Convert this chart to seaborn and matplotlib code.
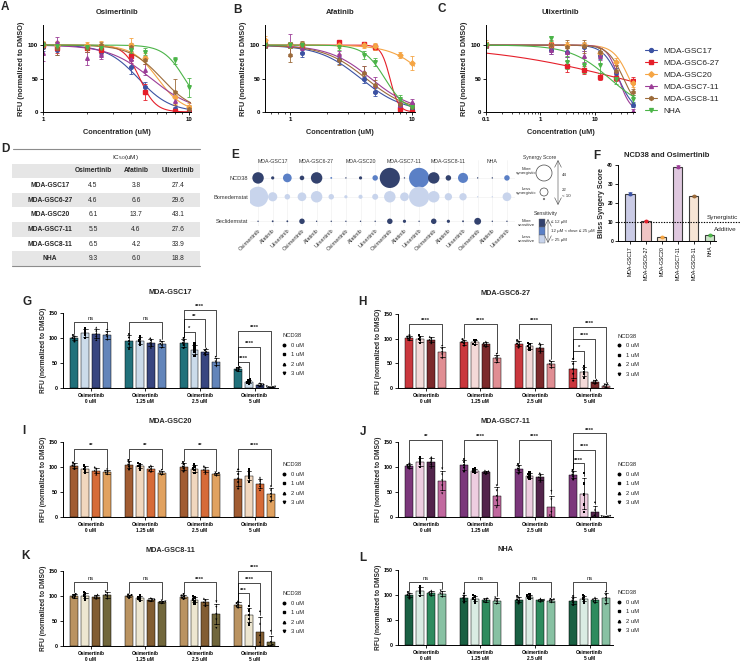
import numpy as np
import pandas as pd
import matplotlib
matplotlib.use('Agg')
import matplotlib.pyplot as plt
import seaborn as sns
from matplotlib.lines import Line2D
from matplotlib.patches import Circle, Rectangle

sns.set_theme(style='ticks')
plt.rcParams['font.family'] = ['Liberation Sans', 'DejaVu Sans']
plt.rcParams['axes.facecolor'] = 'none'
plt.rcParams['axes.edgecolor'] = 'black'
plt.rcParams['axes.linewidth'] = 0.7
plt.rcParams['xtick.major.width'] = 0.6
plt.rcParams['ytick.major.width'] = 0.6
plt.rcParams['xtick.minor.width'] = 0.5
plt.rcParams['xtick.major.size'] = 2
plt.rcParams['ytick.major.size'] = 2
plt.rcParams['xtick.minor.size'] = 1.2
plt.rcParams['xtick.major.pad'] = 1.5
plt.rcParams['ytick.major.pad'] = 1.5
plt.rcParams['xtick.color'] = 'black'
plt.rcParams['ytick.color'] = 'black'

# ---------------- data ----------------
cell_lines = ['MDA-GSC17', 'MDA-GSC6-27', 'MDA-GSC20', 'MDA-GSC7-11', 'MDA-GSC8-11', 'NHA']
line_colors = ['#3B52A3', '#E51F2A', '#F5A544', '#9B3D97', '#9C6B3A', '#4BB448']
line_markers = ['o', 's', 'D', '^', 'h', 'v']

# IC50 table (uM)
ic50_osi = [4.5, 4.6, 6.1, 5.5, 6.5, 9.3]
ic50_afa = [3.8, 6.6, 13.7, 4.6, 4.2, 6.0]
ic50_uli = [27.4, 29.6, 43.1, 27.6, 33.9, 18.8]
# hill slopes of the fitted curves
hill_osi = [4, 8, 5, 3, 4, 6]
hill_afa = [2.5, 12, 3, 2.5, 2.5, 5]
hill_uli = [3, 0.35, 3, 4, 3, 1.2]

osi_conc = [1, 1.25, 2, 2.5, 4, 5, 8, 10]
osi_rfu = {
    'MDA-GSC17': [97, 93, 95, 90, 67, 38, 5, 0],
    'MDA-GSC6-27': [100, 96, 96, 92, 84, 30, 1, 0],
    'MDA-GSC20': [100, 100, 100, 100, 100, 80, 22, 8],
    'MDA-GSC7-11': [88, 104, 80, 85, 79, 63, 16, 1],
    'MDA-GSC8-11': [100, 95, 95, 100, 97, 78, 30, 5],
    'NHA': [100, 98, 97, 95, 93, 90, 77, 37],
}
osi_err = {
    'MDA-GSC17': [6, 8, 6, 5, 10, 7, 3, 1],
    'MDA-GSC6-27': [5, 8, 6, 5, 6, 12, 2, 1],
    'MDA-GSC20': [6, 6, 5, 6, 10, 8, 10, 5],
    'MDA-GSC7-11': [12, 8, 10, 6, 6, 8, 10, 2],
    'MDA-GSC8-11': [5, 10, 6, 5, 6, 6, 20, 5],
    'NHA': [5, 6, 5, 5, 5, 5, 5, 14],
}

afa_conc = [0.625, 1, 1.25, 2.5, 4, 5, 8, 10]
afa_rfu = {
    'MDA-GSC17': [100, 100, 88, 77, 49, 30, 10, 5],
    'MDA-GSC6-27': [100, 100, 100, 104, 102, 97, 5, 0],
    'MDA-GSC20': [108, 100, 100, 100, 100, 98, 85, 73],
    'MDA-GSC7-11': [100, 100, 95, 86, 60, 40, 10, 15],
    'MDA-GSC8-11': [100, 85, 100, 78, 59, 40, 12, 8],
    'NHA': [100, 100, 100, 97, 85, 74, 19, 8],
}
afa_err = {
    'MDA-GSC17': [4, 5, 6, 5, 5, 6, 4, 3],
    'MDA-GSC6-27': [3, 3, 3, 3, 3, 5, 4, 2],
    'MDA-GSC20': [6, 5, 5, 5, 5, 5, 5, 10],
    'MDA-GSC7-11': [5, 16, 6, 5, 8, 12, 5, 5],
    'MDA-GSC8-11': [5, 10, 6, 8, 10, 8, 5, 5],
    'NHA': [4, 4, 4, 4, 6, 6, 7, 5],
}

uli_conc = [0.1, 1.56, 3.125, 6.25, 12.5, 25, 50]
uli_rfu = {
    'MDA-GSC17': [100, 92, 90, 97, 85, 58, 11],
    'MDA-GSC6-27': [100, 100, 68, 63, 53, 51, 47],
    'MDA-GSC20': [102, 100, 100, 100, 88, 75, 44],
    'MDA-GSC7-11': [100, 92, 90, 83, 84, 62, 2],
    'MDA-GSC8-11': [100, 100, 97, 98, 90, 62, 30],
    'NHA': [100, 110, 74, 70, 70, 50, 20],
}
uli_err = {
    'MDA-GSC17': [4, 5, 8, 6, 6, 8, 4],
    'MDA-GSC6-27': [4, 5, 8, 6, 5, 5, 5],
    'MDA-GSC20': [6, 5, 5, 5, 8, 6, 6],
    'MDA-GSC7-11': [4, 6, 8, 8, 6, 8, 2],
    'MDA-GSC8-11': [4, 8, 10, 10, 6, 8, 5],
    'NHA': [4, 4, 10, 12, 12, 8, 6],
}

# synergy bubbles (E)
bubble_drugs = ['Osimertinib', 'Afatinib', 'Ulixertinib']
bubble_rows = ['NCD38', 'Bomedemstat', 'Seclidemstat']
score_ncd38 = [25, 7, 19, 10, 25, 4, 3, 7, 12, 44, 3, 44, 25, 12, 22, 3, 3, 12]
score_bomed = [44, 20, 12, 19, 25, 12, 7, 9, 13, 25, 19, 44, 25, 16, 16, 3, 3, 19]
score_seclid = [3, 4, 4, 12, 3, 3, 3, 3, 3, 12, 7, 3, 12, 7, 4, 15, 3, 3]
sens_ncd38 = ['hi', 'hi', 'mid', 'hi', 'hi', 'mid', 'hi', 'hi', 'mid',
              'hi', 'hi', 'mid', 'hi', 'hi', 'mid', 'hi', 'hi', 'mid']
sens_bomed = ['lo'] * 18
sens_seclid = ['hi'] * 18
sens_colors = {'hi': '#33426E', 'mid': '#5B80C6', 'lo': '#C8D4EC'}

# Bliss synergy (F)
bliss_scores = [25, 10.5, 2, 39, 23.5, 3.3]
bliss_err = [0.8, 0.6, 0.4, 0.8, 0.5, 0.6]
bliss_fill = ['#C6C7EA', '#F6BDBD', '#FFE3C2', '#E3C4E3', '#FDE5CF', '#C9E8C3']

# G-L: replicate RFU values, order = Osimertinib dose x NCD38 dose
osi_levels = ['Osimertinib\n0 uM', 'Osimertinib\n1.25 uM', 'Osimertinib\n2.5 uM', 'Osimertinib\n5 uM']
ncd_levels = ['0 uM', '1 uM', '2 uM', '3 uM']
ncd_markers = ['o', 's', '^', 'v']

gsc17_reps = [
    [93, 98, 100, 103, 106], [100, 106, 110, 115, 120], [96, 104, 109, 115, 121], [96, 102, 106, 111, 116],
    [78, 88, 94, 101, 108], [86, 91, 95, 99, 104], [81, 87, 91, 96, 100], [80, 85, 88, 92, 95],
    [80, 86, 90, 95, 100], [64, 72, 77, 83, 89], [66, 70, 73, 76, 79], [43, 49, 53, 58, 62],
    [34, 36, 38, 40, 42], [9, 11, 13, 15, 17], [4, 6, 7, 8, 10], [0.7, 1.5, 2, 2.6, 3.2],
]
gsc6_reps = [
    [97, 100, 102, 104, 107], [92, 97, 100, 104, 107], [91, 96, 98, 101, 104], [60, 68, 73, 79, 85],
    [86, 91, 93, 96, 99], [87, 90, 93, 97, 98], [84, 87, 89, 91, 94], [51, 56, 60, 64, 69],
    [82, 87, 90, 94, 97], [77, 82, 85, 89, 92], [72, 78, 82, 87, 91], [40, 45, 48, 52, 55],
    [15, 29, 38, 49, 59], [20, 28, 33, 39, 45], [9, 11, 13, 15, 17], [1, 3, 5, 7, 9],
]
gsc20_reps = [
    [96, 101, 103, 106, 109], [88, 93, 96, 100, 103], [85, 90, 93, 97, 100], [85, 88, 90, 92, 95],
    [95, 101, 105, 110, 114], [95, 100, 102, 105, 108], [91, 94, 97, 100, 103], [84, 87, 89, 91, 94],
    [91, 97, 101, 106, 110], [88, 94, 97, 101, 105], [87, 92, 95, 99, 102], [82, 85, 86, 88, 89],
    [57, 70, 77, 86, 95], [70, 78, 83, 89, 95], [54, 62, 67, 73, 79], [30, 40, 46, 53, 61],
]
gsc7_reps = [
    [97, 100, 102, 104, 107], [100, 106, 110, 115, 119], [99, 106, 110, 115, 120], [47, 63, 73, 85, 97],
    [91, 99, 104, 110, 116], [88, 91, 93, 95, 98], [86, 89, 90, 92, 93], [19, 33, 42, 53, 63],
    [87, 93, 97, 102, 106], [77, 80, 83, 86, 89], [71, 77, 80, 84, 88], [0, 3, 10, 35, 52],
    [75, 81, 85, 90, 94], [10, 25, 45, 67, 88], [0, 1, 4, 15, 30], [0, 0.5, 1, 1.5, 2],
]
gsc8_reps = [
    [96, 98, 100, 102, 104], [93, 98, 101, 105, 108], [95, 97, 99, 101, 103], [94, 99, 102, 106, 109],
    [96, 99, 100, 102, 103], [91, 94, 96, 98, 101], [90, 92, 93, 94, 96], [85, 87, 88, 89, 91],
    [94, 97, 99, 101, 104], [85, 90, 93, 97, 100], [80, 85, 88, 92, 95], [36, 53, 64, 78, 89],
    [77, 80, 83, 86, 89], [43, 54, 62, 71, 80], [0, 8, 22, 45, 70], [0, 0, 2, 8, 30],
]
nha_reps = [
    [93, 98, 100, 103, 106], [98, 104, 108, 113, 117], [99, 102, 104, 106, 109], [96, 101, 103, 106, 109],
    [85, 90, 94, 98, 103], [85, 90, 93, 97, 100], [86, 88, 90, 92, 94], [82, 87, 89, 92, 95],
    [83, 88, 91, 95, 98], [92, 95, 97, 99, 102], [87, 89, 90, 91, 93], [85, 88, 89, 91, 92],
    [80, 85, 89, 93, 98], [85, 90, 93, 97, 100], [85, 88, 90, 92, 95], [81, 89, 94, 100, 106],
]

gsc17_colors = ['#127C8A', '#C6DBEF', '#2C3E8C', '#5482C8']
gsc6_colors = ['#E21F26', '#F9D5D3', '#8A1C1F', '#EE8087']
gsc20_colors = ['#B4571F', '#FAD7B5', '#F0621E', '#F7A24A']
gsc7_colors = ['#862C86', '#F3C8E1', '#5A1C50', '#D05AA3']
gsc8_colors = ['#C99552', '#F2E8CB', '#8F5E25', '#7A6C33']
nha_colors = ['#0F6B45', '#D7EFE3', '#1E9A5E', '#7ECBA2']

# significance: (osimertinib group, compared NCD38 level vs 0 uM, bracket height, label)
gsc17_sig = [(0, 3, 133, 'ns'), (1, 3, 133, 'ns'), (2, 1, 113, '*'), (2, 2, 138, '**'),
             (2, 3, 157, '****'), (3, 1, 53, '****'), (3, 2, 83, '****'), (3, 3, 115, '****')]
gsc6_sig = [(0, 3, 130, '****'), (1, 3, 130, '****'), (2, 3, 130, '****'),
            (3, 1, 76, '*'), (3, 2, 100, '****'), (3, 3, 124, '****')]
gsc20_sig = [(0, 3, 137, '**'), (1, 3, 137, '**'), (2, 3, 137, '**'), (3, 3, 137, '****')]
gsc7_sig = [(0, 3, 155, '**'), (1, 3, 155, '****'), (2, 3, 155, '****'),
            (3, 1, 108, '****'), (3, 2, 135, '****'), (3, 3, 167, '****')]
gsc8_sig = [(0, 3, 128, 'ns'), (1, 3, 128, 'ns'), (2, 3, 128, '****'),
            (3, 1, 106, '***'), (3, 2, 127, '****'), (3, 3, 151, '****')]
nha_sig = [(0, 3, 127, 'ns'), (1, 3, 127, 'ns'), (2, 3, 127, 'ns'), (3, 3, 127, 'ns')]

# ---------------- figure ----------------
W, H = 740, 664
fig = plt.figure(figsize=(W / 100, H / 100), dpi=100)


def px_axes(l, t, r, b):
    return fig.add_axes([l / W, 1 - b / H, (r - l) / W, (b - t) / H])


def letter(x, y, s):
    fig.text(x / W, 1 - y / H, s, fontsize=8.5, fontweight='bold', ha='center', va='center')


def bold_ticks(ax, size):
    for t in ax.get_xticklabels() + ax.get_yticklabels():
        t.set_fontsize(size)
        t.set_fontweight('bold')


# ----- A, B, C: dose response -----
def dose_panel(box, title, conc, rfu, err, ic50, hill, xlim, xticks, xticklabels):
    ax = px_axes(*box)
    xs = np.geomspace(xlim[0], xlim[1], 300)
    for i, name in enumerate(cell_lines):
        fit = 100 / (1 + (xs / ic50[i]) ** hill[i])
        sns.lineplot(x=xs, y=fit, color=line_colors[i], linewidth=0.8, ax=ax)
        ax.errorbar(conc, rfu[name], yerr=err[name], fmt=line_markers[i], color=line_colors[i],
                    ms=2.6, elinewidth=0.6, capsize=1.2, capthick=0.6)
    ax.set_xscale('log')
    ax.set_xlim(xlim)
    ax.set_ylim(0, 130)
    ax.set_yticks([0, 50, 100])
    ax.set_xticks(xticks)
    ax.set_xticklabels(xticklabels)
    ax.xaxis.set_minor_formatter(plt.NullFormatter())
    sns.despine(ax=ax)
    bold_ticks(ax, 4.4)
    ax.set_title(title, fontsize=5.5, fontweight='bold', pad=8)
    ax.set_xlabel('Concentration (uM)', fontsize=5.3, fontweight='bold', labelpad=5)
    ax.set_ylabel('RFU (normalized to DMSO)', fontsize=5.3, fontweight='bold', labelpad=2)
    return ax


dose_panel((43, 25, 191, 112), 'Osimertinib', osi_conc, osi_rfu, osi_err, ic50_osi, hill_osi,
           (1, 10.3), [1, 10], ['1', '10'])
dose_panel((265, 25, 415, 112), 'Afatinib', afa_conc, afa_rfu, afa_err, ic50_afa, hill_afa,
           (0.62, 10.6), [1, 10], ['1', '10'])
axC = dose_panel((486, 25, 635, 112), 'Ulixertinib', uli_conc, uli_rfu, uli_err, ic50_uli, hill_uli,
                 (0.1, 55), [0.1, 1, 10], ['0.1', '1', '10'])
handles = [Line2D([0], [0], color=c, marker=m, ms=2.8, lw=0.8) for c, m in zip(line_colors, line_markers)]
axC.legend(handles, cell_lines, loc='upper left', bbox_to_anchor=(645 / W, 1 - 47 / H),
           bbox_transform=fig.transFigure, frameon=False, fontsize=6, handlelength=1.4,
           handletextpad=0.8, labelspacing=0.5, borderpad=0, borderaxespad=0)

# ----- overlay for table and legends -----
ov = fig.add_axes([0, 0, 1, 1])
ov.set_xlim(0, W)
ov.set_ylim(H, 0)
ov.axis('off')

# D: IC50 table
tab_x = [50, 93, 136, 178]
row_h = 14.65
ov.plot([13, 200], [149, 149], color='#8c8c8c', lw=0.8)
ov.text(125, 157, 'IC$_{50}$(uM)', fontsize=4.6, ha='center', va='center')
for r in range(7):
    y0 = 163.5 + r * row_h
    if r % 2 == 0:
        ov.add_patch(Rectangle((12, y0), 188, row_h, color='#E6E6E6', lw=0))
    yc = y0 + row_h / 2
    if r == 0:
        for x, name in zip(tab_x[1:], bubble_drugs):
            ov.text(x, yc, name, fontsize=4.8, fontweight='bold', ha='center', va='center')
    else:
        k = r - 1
        ov.text(tab_x[0], yc, cell_lines[k], fontsize=4.8, fontweight='bold', ha='center', va='center')
        for x, vals in zip(tab_x[1:], [ic50_osi, ic50_afa, ic50_uli]):
            ov.text(x, yc, f'{vals[k]:.1f}', fontsize=4.8, ha='center', va='center')
ov.plot([12, 200], [266, 266], color='#8c8c8c', lw=0.8)

# E: bubble chart
axE = px_axes(250, 160, 515, 226)
bub = pd.DataFrame({
    'col': list(range(18)) * 3,
    'row': [0] * 18 + [1] * 18 + [2.3] * 18,
    'score': score_ncd38 + score_bomed + score_seclid,
    'sens': sens_ncd38 + sens_bomed + sens_seclid,
})
for yv in [0, 1, 2.3]:
    axE.axhline(yv, color='#eeeeee', lw=0.4, zorder=0)
for xv in range(18):
    axE.axvline(xv, color='#eeeeee', lw=0.4, zorder=0)
sns.scatterplot(data=bub, x='col', y='row', hue='sens', palette=sens_colors,
                s=(0.33 * bub['score']) ** 2, edgecolor='none', legend=False, ax=axE)
axE.set_xlim(-0.55, 17.55)
axE.set_ylim(2.55, -0.95)
axE.set_xticks(range(18))
axE.set_xticklabels(bubble_drugs * 6, rotation=45, ha='right', rotation_mode='anchor',
                    fontsize=4.1, color='#333333')
axE.set_yticks([0, 1, 2.3])
axE.set_yticklabels(bubble_rows, fontsize=4.1, color='#333333')
axE.tick_params(length=0, pad=1.5)
axE.set_xlabel('')
axE.set_ylabel('')
for s in axE.spines.values():
    s.set_visible(False)
for g, name in enumerate(cell_lines):
    axE.text(3 * g + 1, -0.85, name, fontsize=3.8, ha='center', va='center', color='#333333')

# E legend
ov.text(540, 158, 'Synergy Score', fontsize=3.6, ha='center', va='center', color='#333333')
ov.add_patch(Circle((544, 173), 8, fill=False, lw=0.5, ec='#444444'))
ov.add_patch(Circle((544, 192), 4, fill=False, lw=0.5, ec='#444444'))
ov.add_patch(Circle((544, 199), 0.8, fill=False, lw=0.4, ec='#444444'))
ov.text(526, 171, 'More\nsynergistic', fontsize=3.2, ha='center', va='center', color='#333333', linespacing=1.1)
ov.text(526, 191, 'Less\nsynergistic', fontsize=3.2, ha='center', va='center', color='#333333', linespacing=1.1)
ov.annotate('', xy=(558, 160), xytext=(558, 205),
            arrowprops=dict(arrowstyle='<->', lw=0.4, color='#444444', shrinkA=0, shrinkB=0))
ov.text(562, 175, '44', fontsize=3.2, va='center', color='#333333')
ov.text(562, 190, '22', fontsize=3.2, va='center', color='#333333')
ov.text(562, 196, '< 10', fontsize=3.2, va='center', color='#333333')
ov.text(546, 213, 'Sensitivity', fontsize=3.8, ha='center', va='center', color='#333333')
for k, key in enumerate(['hi', 'mid', 'lo']):
    ov.add_patch(Rectangle((539, 219 + 8 * k), 6, 8, facecolor=sens_colors[key], edgecolor='#666666', lw=0.3))
ov.annotate('', xy=(548, 219), xytext=(548, 243),
            arrowprops=dict(arrowstyle='<->', lw=0.4, color='#444444', shrinkA=0, shrinkB=0))
ov.text(526, 223, 'More\nsensitive', fontsize=3.2, ha='center', va='center', color='#333333', linespacing=1.1)
ov.text(526, 239, 'Less\nsensitive', fontsize=3.2, ha='center', va='center', color='#333333', linespacing=1.1)
ov.text(551, 222, '\u2264 12 \u00b5M', fontsize=3.2, va='center', color='#333333')
ov.text(551, 231, '12 \u00b5M < dose \u2264 25 \u00b5M', fontsize=3.2, va='center', color='#333333')
ov.text(551, 240, '> 25 \u00b5M', fontsize=3.2, va='center', color='#333333')

# F: Bliss synergy bars
axF = px_axes(618, 165, 716, 241)
sns.barplot(x=cell_lines, y=bliss_scores, hue=cell_lines, palette=bliss_fill, legend=False,
            width=0.58, edgecolor='#3a3a3a', linewidth=0.8, ax=axF)
for i in range(6):
    axF.errorbar([i], [bliss_scores[i]], yerr=[bliss_err[i]], fmt='o', ms=1.8,
                 color=line_colors[i], elinewidth=0.5, capsize=1.2, capthick=0.5)
axF.plot([-0.75, 6.9], [10, 10], ls=(0, (1.2, 1.2)), color='black', lw=0.8, clip_on=False)
axF.set_xlim(-0.75, 5.4)
axF.set_ylim(0, 40)
axF.set_yticks([0, 10, 20, 30, 40])
sns.despine(ax=axF)
bold_ticks(axF, 3.6)
axF.set_xticks(range(6))
axF.set_xticklabels(cell_lines, rotation=90, fontsize=3.7, fontweight='normal')
axF.set_ylabel('Bliss Syngery Score', fontsize=5.2, fontweight='bold', labelpad=2)
axF.set_title('NCD38 and Osimertinib', fontsize=5.5, fontweight='bold', pad=6)
fig.text(707 / W, 1 - 217 / H, 'Synergistic', fontsize=4.6, va='center')
fig.text(714 / W, 1 - 229 / H, 'Additive', fontsize=4.6, va='center')


# ----- G-L: grouped bars -----
def reps_frame(reps):
    rows = []
    for gi, osi in enumerate(osi_levels):
        for hi, ncd in enumerate(ncd_levels):
            for v in reps[gi * 4 + hi]:
                rows.append((osi, ncd, v))
    return pd.DataFrame(rows, columns=['osi', 'ncd', 'rfu'])


def bar_panel(title, box, reps, colors, sig):
    ax = px_axes(*box)
    df = reps_frame(reps)
    sns.barplot(data=df, x='osi', y='rfu', hue='ncd', order=osi_levels, hue_order=ncd_levels,
                palette=colors, errorbar='sd', capsize=0.35, gap=0.27,
                err_kws={'color': 'black', 'linewidth': 0.5}, edgecolor='black', linewidth=0.35,
                legend=False, ax=ax)
    for h, m in zip(ncd_levels, ncd_markers):
        sns.swarmplot(data=df[df['ncd'] == h], x='osi', y='rfu', hue='ncd', order=osi_levels,
                      hue_order=ncd_levels, dodge=True, palette=['black'] * 4, marker=m,
                      size=1.5, linewidth=0, legend=False, ax=ax)
    stats = df.groupby(['osi', 'ncd'])['rfu']
    top = stats.mean() + stats.std()
    for g, j, y, lab in sig:
        x1 = g - 0.3
        x2 = g - 0.3 + 0.2 * j
        y1 = min(top[(osi_levels[g], ncd_levels[0])] + 4, y - 2)
        y2 = min(top[(osi_levels[g], ncd_levels[j])] + 4, y - 2)
        ax.plot([x1, x1, x2, x2], [y1, y, y, y2], color='black', lw=0.5, clip_on=False)
        ax.text((x1 + x2) / 2, y + 1, lab, ha='center', va='bottom', fontsize=4.2,
                fontweight='normal' if lab == 'ns' else 'bold', clip_on=False)
    ax.set_xlim(-0.51, 3.43)
    ax.set_ylim(0, 150)
    ax.set_yticks([0, 50, 100, 150])
    sns.despine(ax=ax)
    bold_ticks(ax, 3.9)
    for t in ax.get_xticklabels():
        t.set_fontsize(3.4)
        t.set_linespacing(1.25)
    ax.set_xlabel('')
    ax.set_ylabel('RFU (normalized to DMSO)', fontsize=4.8, fontweight='bold', labelpad=1.5)
    ax.set_title(title, fontsize=5.3, fontweight='bold', pad=14)
    hs = [Line2D([], [], ls='', marker=m, color='black', ms=1.8) for m in ncd_markers]
    leg = ax.legend(hs, ncd_levels, title='NCD38', loc='upper left', bbox_to_anchor=(1.02, 0.73),
                    frameon=False, fontsize=4.2, title_fontsize=4.2, handlelength=0.6,
                    handletextpad=0.9, labelspacing=0.75, borderpad=0, borderaxespad=0)
    leg._legend_box.align = 'left'


bar_panel('MDA-GSC17', (63, 313, 278, 388), gsc17_reps, gsc17_colors, gsc17_sig)
bar_panel('MDA-GSC6-27', (398, 314, 613, 388), gsc6_reps, gsc6_colors, gsc6_sig)
bar_panel('MDA-GSC20', (63, 442, 278, 517), gsc20_reps, gsc20_colors, gsc20_sig)
bar_panel('MDA-GSC7-11', (398, 442, 613, 517), gsc7_reps, gsc7_colors, gsc7_sig)
bar_panel('MDA-GSC8-11', (63, 571, 278, 646), gsc8_reps, gsc8_colors, gsc8_sig)
bar_panel('NHA', (398, 570, 613, 645), nha_reps, nha_colors, nha_sig)

# panel letters
for x, y, s in [(5, 7, 'A'), (237, 10, 'B'), (442, 9, 'C'), (5, 149, 'D'), (235, 155, 'E'),
                (597, 156, 'F'), (27, 302, 'G'), (362, 302, 'H'), (24, 431, 'I'),
                (363, 432, 'J'), (26, 556, 'K'), (363, 558, 'L')]:
    letter(x, y, s)

fig.savefig('out.png', dpi=100)
